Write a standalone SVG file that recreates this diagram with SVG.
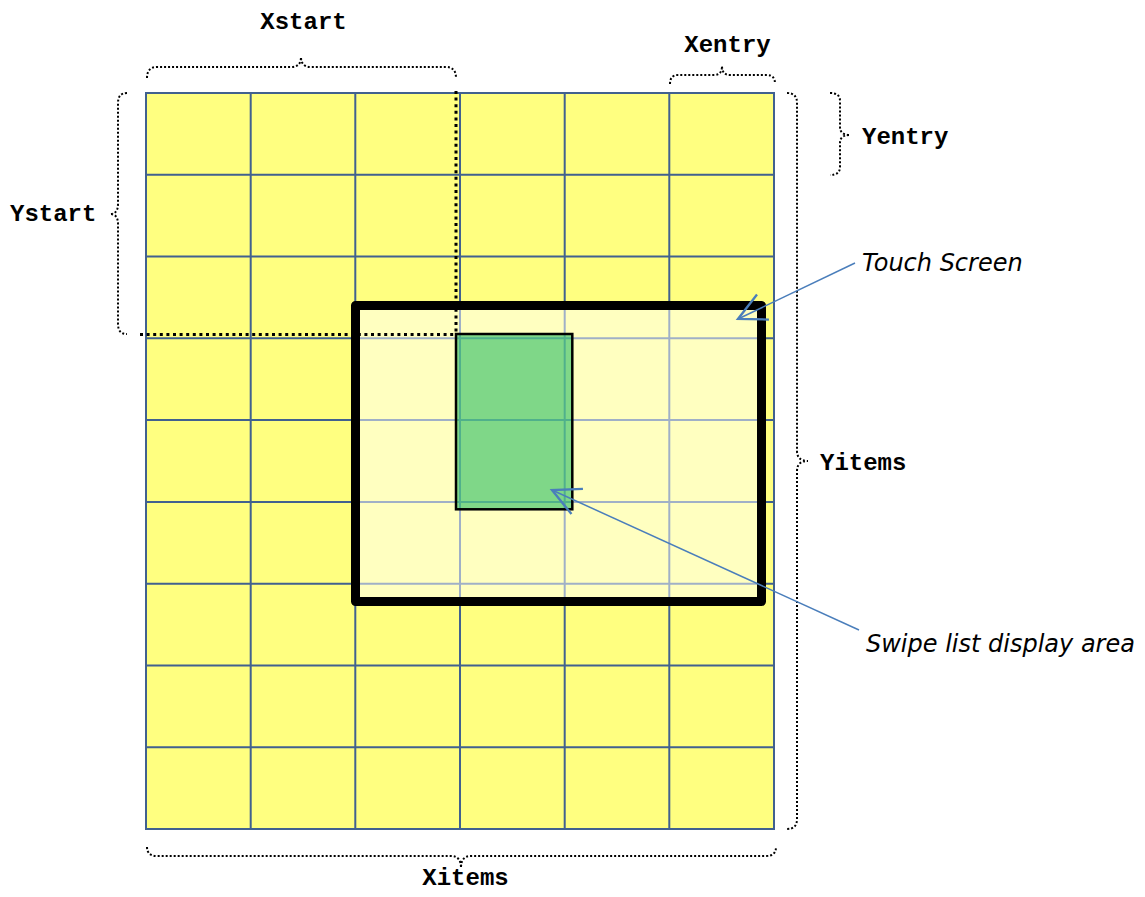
<svg xmlns="http://www.w3.org/2000/svg" width="1145" height="897" viewBox="0 0 1145 897">
<style>
.grid{stroke:#41618f;stroke-width:2;fill:none}
.brace{fill:none;stroke:#000;stroke-width:2;stroke-dasharray:2 2}
.guide{fill:none;stroke:#000;stroke-width:3;stroke-dasharray:3 3.6}
.mono{font-family:"Liberation Mono","DejaVu Sans Mono",monospace;font-weight:bold;font-size:24px;fill:#000}
.note{font-family:"DejaVu Sans","Noto Sans",sans-serif;font-style:italic;font-size:24px;fill:#000}
.conn{fill:none;stroke:#4a7ebb;stroke-width:1.5}
</style>
<defs>
<marker id="open" markerUnits="userSpaceOnUse" markerWidth="40" markerHeight="40" refX="0" refY="0" viewBox="-22 -12 26 24" orient="auto" overflow="visible">
<path d="M-18,-9 L0,0 L-18,9" fill="none" stroke="#4a7ebb" stroke-width="1.5"/>
</marker>
</defs>
<rect width="1145" height="897" fill="#fff"/>
<g id="grid">
<rect x="146" y="93" width="628" height="736" fill="#ffff80"/>
<path class="grid" d="M146,93H774V829H146Z M250.7,93V829 M355.3,93V829 M460,93V829 M564.7,93V829 M669.3,93V829 M146,174.8H774 M146,256.6H774 M146,338.3H774 M146,420.1H774 M146,501.9H774 M146,583.7H774 M146,665.4H774 M146,747.2H774"/>
</g>
<g id="touch-screen">
<rect x="355.5" y="305.5" width="406" height="296" fill="#fff" fill-opacity="0.5" stroke="#000" stroke-width="9" stroke-linejoin="round"/>
</g>
<g id="swipe-area">
<rect x="456" y="334" width="116.3" height="175.3" fill="#00b050" fill-opacity="0.5" stroke="#000" stroke-width="2.5"/>
</g>
<g id="guides">
<path class="guide" d="M456,91V334"/>
<path class="guide" d="M140,334.5H456"/>
</g>
<g id="braces">
<path id="brace-xstart" class="brace" d="M147,78 Q147,67 157,67 H291 Q301,67 301,57 Q301,67 311,67 H446 Q456,67 456,78"/>
<path id="brace-xentry" class="brace" d="M670,84 Q670,75 678,75 H714 Q722,75 722,66 Q722,75 730,75 H767 Q775,75 775,84"/>
<path id="brace-yentry" class="brace" d="M830,93 Q840,93 840,101 V127 Q840,135 850,135 Q840,135 840,143 V167 Q840,175 830,175"/>
<path id="brace-yitems" class="brace" d="M787,93 Q797,93 797,103 V451 Q797,461 808,461 Q797,461 797,471 V819 Q797,829 787,829"/>
<path id="brace-ystart" class="brace" d="M127,93 Q118,93 118,103 V204 Q118,214 110,214 Q118,214 118,224 V324 Q118,334 127,334"/>
<path id="brace-xitems" class="brace" d="M147,847 Q147,856 157,856 H451 Q461,856 461,868 Q461,856 471,856 H766 Q776,856 776,847"/>
</g>
<g id="labels">
<text class="mono" x="303.5" y="29" text-anchor="middle">Xstart</text>
<text class="mono" x="727.5" y="52" text-anchor="middle">Xentry</text>
<text class="mono" x="862" y="144" >Yentry</text>
<text class="mono" x="10" y="221">Ystart</text>
<text class="mono" x="820" y="470">Yitems</text>
<text class="mono" x="465.5" y="885" text-anchor="middle">Xitems</text>
<text class="note" x="862" y="271">Touch Screen</text>
<text class="note" x="866" y="652">Swipe list display area</text>
</g>
<g id="connectors">
<path class="conn" d="M855,263 L738,319" marker-end="url(#open)"/>
<path class="conn" d="M859,630 L552,490" marker-end="url(#open)"/>
</g>
</svg>
